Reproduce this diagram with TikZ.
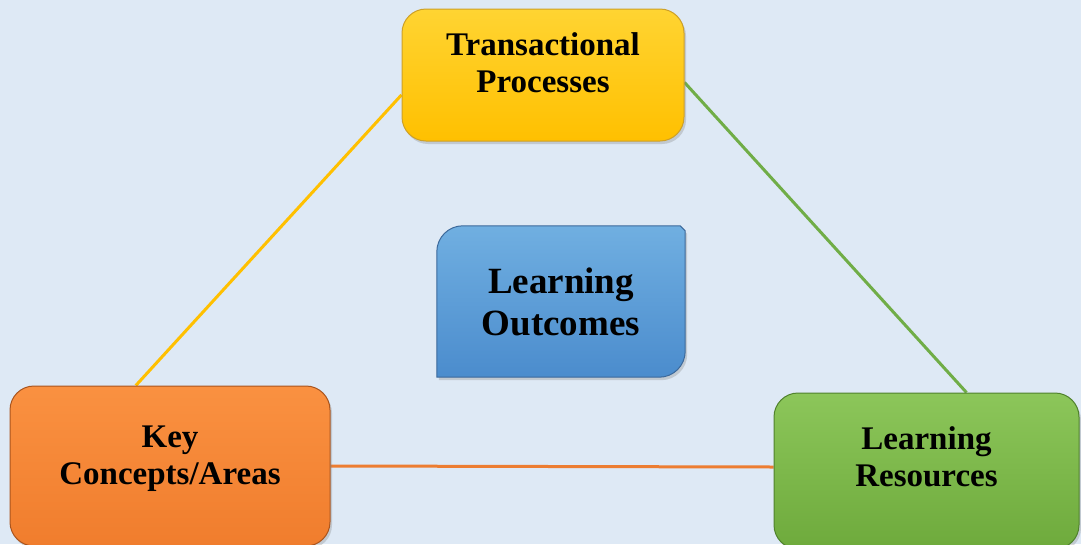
\documentclass[tikz,border=0pt]{standalone}
\usepackage{fontspec}
\setmainfont{Liberation Serif}
\usetikzlibrary{shadows,backgrounds}

\definecolor{canvas}{RGB}{222,233,245}
\definecolor{yellowtop}{RGB}{255,212,50}
\definecolor{yellowbot}{RGB}{255,192,0}
\definecolor{yellowedge}{RGB}{205,160,40}
\definecolor{orangetop}{RGB}{250,145,65}
\definecolor{orangebot}{RGB}{240,125,45}
\definecolor{orangeedge}{RGB}{170,85,30}
\definecolor{greentop}{RGB}{140,198,90}
\definecolor{greenbot}{RGB}{110,170,60}
\definecolor{greenedge}{RGB}{80,130,45}
\definecolor{bluetop}{RGB}{112,175,225}
\definecolor{bluebot}{RGB}{75,140,205}
\definecolor{blueedge}{RGB}{60,105,155}
\definecolor{yellowline}{RGB}{255,192,0}
\definecolor{greenline}{RGB}{112,173,71}
\definecolor{orangeline}{RGB}{237,125,49}

\begin{document}
\begin{tikzpicture}[x=1pt, y=-1pt,
    box/.style={rounded corners=24pt, line width=1pt, align=center,
                font=\bfseries\fontsize{33}{37}\selectfont,
                drop shadow={opacity=0.3, shadow xshift=2pt, shadow yshift=-3pt}},
    process/.style={box, draw=yellowedge, top color=yellowtop, bottom color=yellowbot,
                    minimum width=282pt, minimum height=132pt, text depth=24pt},
    concept/.style={box, draw=orangeedge, top color=orangetop, bottom color=orangebot,
                    minimum width=320pt, minimum height=160pt, text depth=22pt},
    resource/.style={box, draw=greenedge, top color=greentop, bottom color=greenbot,
                     minimum width=305pt, minimum height=156pt, text depth=28pt},
    outcome/.style={align=center, font=\bfseries\fontsize{37}{42}\selectfont,
                    minimum width=248pt, minimum height=151pt},
    outcomeshape/.style={draw=blueedge, line width=1pt, top color=bluetop, bottom color=bluebot,
                         drop shadow={opacity=0.3, shadow xshift=2pt, shadow yshift=-3pt}},
    link/.style={line width=3pt},
  ]
    \useasboundingbox (0,0) rectangle (1081,544);

    % corner boxes
    \node[process]  (proc) at (543,75)    {Transactional\\Processes};
    \node[concept]  (key)  at (170,466)   {Key\\Concepts/Areas};
    \node[resource] (res)  at (926.5,471) {Learning\\Resources};

    % centre box
    \node[outcome]  (out)  at (561,301.5) {Learning\\Outcomes};

    \begin{scope}[on background layer]
      \fill[canvas] (0,0) rectangle (1081,544);
      \draw[link, yellowline] (key.113) -- (proc.188);
      \draw[link, greenline]  (proc.357) -- (res.63);
      \draw[link, orangeline] (key.east) -- ([yshift=-1pt]res.west |- key.east);
      \draw[outcomeshape] (out.south west)
        [rounded corners=26pt] -- (out.north west)
        [sharp corners] -- ([xshift=-5pt]out.north east) -- ([yshift=-5pt]out.north east)
        [rounded corners=26pt] -- (out.south east)
        [sharp corners] -- cycle;
    \end{scope}
\end{tikzpicture}
\end{document}
